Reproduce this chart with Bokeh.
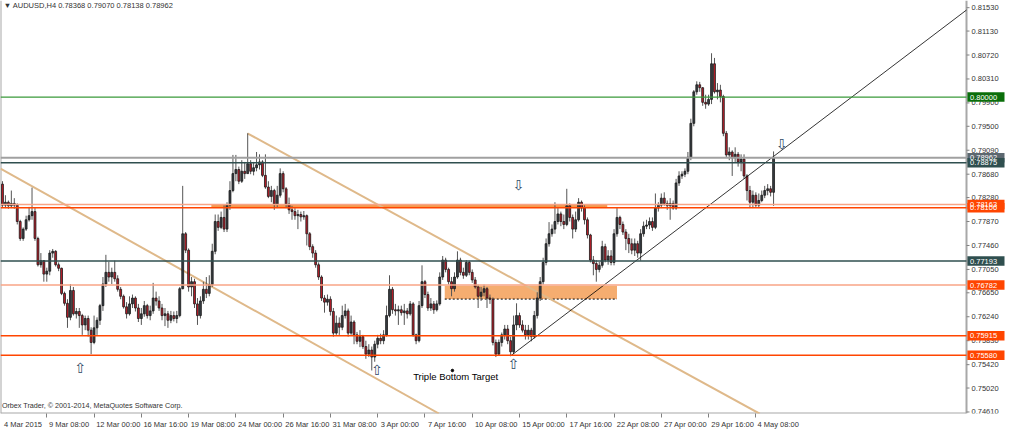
import pandas as pd
from bokeh.plotting import figure
from bokeh.models import Range1d, FixedTicker, ColumnDataSource
from bokeh.core.properties import value
from bokeh.embed import file_html
from bokeh.resources import INLINE

# ---------------- data (AUDUSD, H4) ----------------
header_text = "\u25BC AUDUSD,H4  0.78368 0.79070 0.78138 0.78962"
footer_text = "Orbex Trader, \u00A9 2001-2014, MetaQuotes Software Corp."

first_open = 0.7851
closes = [
    0.7815, 0.7820, 0.7814, 0.7818, 0.7815, 0.7787, 0.7758, 0.7774, 0.7790, 0.7797,
    0.7804, 0.7758, 0.7713, 0.7720, 0.7697, 0.7702, 0.7733, 0.7736, 0.7713, 0.7707,
    0.7664, 0.7647, 0.7623, 0.7669, 0.7629, 0.7633, 0.7626, 0.7610, 0.7621, 0.7601,
    0.7580, 0.7605, 0.7618, 0.7643, 0.7680, 0.7700, 0.7692, 0.7700, 0.7689, 0.7671,
    0.7659, 0.7641, 0.7629, 0.7646, 0.7656, 0.7639, 0.7621, 0.7629, 0.7643, 0.7626,
    0.7634, 0.7656, 0.7651, 0.7639, 0.7626, 0.7629, 0.7618, 0.7626, 0.7621, 0.7626,
    0.7672, 0.7766, 0.7738, 0.7675, 0.7684, 0.7646, 0.7626, 0.7651, 0.7671, 0.7664,
    0.7679, 0.7736, 0.7787, 0.7777, 0.7794, 0.7774, 0.7815, 0.7840, 0.7869, 0.7876,
    0.7856, 0.7873, 0.7869, 0.7886, 0.7873, 0.7879, 0.7884, 0.7889, 0.7866, 0.7846,
    0.7830, 0.7840, 0.7817, 0.7832, 0.7869, 0.7843, 0.7817, 0.7807, 0.7804, 0.7797,
    0.7799, 0.7795, 0.7797, 0.7766, 0.7744, 0.7733, 0.7713, 0.7692, 0.7656, 0.7649,
    0.7654, 0.7633, 0.7596, 0.7613, 0.7606, 0.7626, 0.7634, 0.7596, 0.7615, 0.7593,
    0.7582, 0.7590, 0.7573, 0.7560, 0.7567, 0.7555, 0.7577, 0.7587, 0.7583, 0.7593,
    0.7626, 0.7671, 0.7636, 0.7634, 0.7636, 0.7631, 0.7634, 0.7629, 0.7646, 0.7593,
    0.7583, 0.7643, 0.7684, 0.7662, 0.7639, 0.7646, 0.7636, 0.7646, 0.7692, 0.7721,
    0.7705, 0.7684, 0.7672, 0.7692, 0.7721, 0.7700, 0.7695, 0.7717, 0.7700, 0.7687,
    0.7675, 0.7659, 0.7666, 0.7672, 0.7656, 0.7654, 0.7580, 0.7560, 0.7580, 0.7593,
    0.7603, 0.7583, 0.7564, 0.7610, 0.7626, 0.7610, 0.7601, 0.7593, 0.7601, 0.7590,
    0.7626, 0.7656, 0.7684, 0.7717, 0.7749, 0.7766, 0.7774, 0.7787, 0.7800, 0.7787,
    0.7782, 0.7814, 0.7794, 0.7774, 0.7790, 0.7820, 0.7810, 0.7790, 0.7764, 0.7721,
    0.7715, 0.7705, 0.7712, 0.7744, 0.7721, 0.7728, 0.7717, 0.7766, 0.7794, 0.7782,
    0.7769, 0.7758, 0.7749, 0.7738, 0.7749, 0.7733, 0.7766, 0.7779, 0.7781, 0.7787,
    0.7777, 0.7810, 0.7815, 0.7827, 0.7818, 0.7814, 0.7818, 0.7810, 0.7853, 0.7865,
    0.7868, 0.7873, 0.7897, 0.7955, 0.8009, 0.8021, 0.8016, 0.7991, 0.7988, 0.7996,
    0.8057, 0.8009, 0.8012, 0.8001, 0.7938, 0.7901, 0.7906, 0.7896, 0.7902, 0.7889,
    0.7894, 0.7865, 0.7840, 0.7820, 0.7832, 0.7815, 0.7823, 0.7832, 0.7840, 0.7843,
    0.7837, 0.78962,
]
highs = [
    0.7856, 0.7832, 0.7823, 0.7840, 0.7827, 0.7818, 0.7790, 0.7777, 0.7797, 0.7812,
    0.7845, 0.7810, 0.7761, 0.7733, 0.7721, 0.7708, 0.7738, 0.7740, 0.7738, 0.7717,
    0.7708, 0.7667, 0.7654, 0.7680, 0.7675, 0.7639, 0.7639, 0.7629, 0.7626, 0.7626,
    0.7606, 0.7626, 0.7623, 0.7646, 0.7692, 0.7730, 0.7718, 0.7708, 0.7720, 0.7695,
    0.7675, 0.7662, 0.7649, 0.7659, 0.7662, 0.7659, 0.7646, 0.7639, 0.7651, 0.7646,
    0.7643, 0.7682, 0.7667, 0.7659, 0.7646, 0.7639, 0.7634, 0.7634, 0.7633, 0.7634,
    0.7675, 0.7848, 0.7769, 0.7741, 0.7692, 0.7689, 0.7656, 0.7659, 0.7684, 0.7692,
    0.7695, 0.7749, 0.7799, 0.7799, 0.7804, 0.7815, 0.7820, 0.7856, 0.7901, 0.7901,
    0.7881, 0.7892, 0.7889, 0.7938, 0.7892, 0.7889, 0.7906, 0.7902, 0.7892, 0.7902,
    0.7856, 0.7848, 0.7843, 0.7848, 0.7878, 0.7873, 0.7846, 0.7828, 0.7814, 0.7810,
    0.7807, 0.7804, 0.7805, 0.7799, 0.7769, 0.7748, 0.7738, 0.7717, 0.7695, 0.7661,
    0.7662, 0.7659, 0.7639, 0.7626, 0.7623, 0.7643, 0.7646, 0.7638, 0.7626, 0.7618,
    0.7598, 0.7601, 0.7593, 0.7583, 0.7577, 0.7573, 0.7583, 0.7593, 0.7595, 0.7601,
    0.7643, 0.7695, 0.7675, 0.7646, 0.7643, 0.7643, 0.7646, 0.7639, 0.7651, 0.7649,
    0.7595, 0.7651, 0.7712, 0.7687, 0.7667, 0.7656, 0.7651, 0.7652, 0.7700, 0.7728,
    0.7725, 0.7708, 0.7692, 0.7700, 0.7736, 0.7725, 0.7708, 0.7721, 0.7720, 0.7705,
    0.7692, 0.7679, 0.7675, 0.7679, 0.7675, 0.7662, 0.7657, 0.7585, 0.7585, 0.7597,
    0.7610, 0.7610, 0.7590, 0.7626, 0.7647, 0.7631, 0.7618, 0.7610, 0.7610, 0.7605,
    0.7634, 0.7666, 0.7692, 0.7725, 0.7758, 0.7786, 0.7782, 0.7820, 0.7810, 0.7804,
    0.7799, 0.7843, 0.7818, 0.7799, 0.7804, 0.7827, 0.7823, 0.7815, 0.7794, 0.7766,
    0.7728, 0.7721, 0.7718, 0.7754, 0.7749, 0.7738, 0.7738, 0.7774, 0.7810, 0.7797,
    0.7787, 0.7774, 0.7766, 0.7758, 0.7758, 0.7754, 0.7774, 0.7787, 0.7790, 0.7794,
    0.7794, 0.7835, 0.7820, 0.7835, 0.7837, 0.7823, 0.7827, 0.7823, 0.7860, 0.7873,
    0.7873, 0.7878, 0.7906, 0.7963, 0.8012, 0.8027, 0.8026, 0.8017, 0.8004, 0.8004,
    0.8075, 0.8067, 0.8024, 0.8021, 0.8004, 0.7942, 0.7914, 0.7909, 0.7914, 0.7906,
    0.7902, 0.7902, 0.7868, 0.7848, 0.7840, 0.7837, 0.7835, 0.7840, 0.7848, 0.7851,
    0.7848, 0.79070,
]
lows = [
    0.7812, 0.7810, 0.7809, 0.7810, 0.7809, 0.7782, 0.7754, 0.7754, 0.7771, 0.7787,
    0.7790, 0.7754, 0.7710, 0.7708, 0.7684, 0.7684, 0.7695, 0.7725, 0.7710, 0.7702,
    0.7661, 0.7643, 0.7605, 0.7618, 0.7626, 0.7621, 0.7605, 0.7593, 0.7601, 0.7590,
    0.7560, 0.7577, 0.7593, 0.7610, 0.7634, 0.7675, 0.7684, 0.7680, 0.7684, 0.7667,
    0.7654, 0.7638, 0.7621, 0.7626, 0.7639, 0.7633, 0.7615, 0.7610, 0.7624, 0.7621,
    0.7618, 0.7629, 0.7643, 0.7634, 0.7618, 0.7608, 0.7605, 0.7613, 0.7616, 0.7613,
    0.7623, 0.7671, 0.7733, 0.7667, 0.7659, 0.7639, 0.7610, 0.7621, 0.7646, 0.7656,
    0.7659, 0.7675, 0.7731, 0.7771, 0.7774, 0.7769, 0.7769, 0.7807, 0.7837, 0.7856,
    0.7851, 0.7853, 0.7860, 0.7869, 0.7868, 0.7866, 0.7873, 0.7876, 0.7863, 0.7843,
    0.7827, 0.7820, 0.7807, 0.7810, 0.7828, 0.7837, 0.7810, 0.7800, 0.7790, 0.7790,
    0.7774, 0.7787, 0.7790, 0.7746, 0.7738, 0.7725, 0.7708, 0.7687, 0.7651, 0.7631,
    0.7643, 0.7626, 0.7590, 0.7593, 0.7593, 0.7601, 0.7621, 0.7590, 0.7593, 0.7577,
    0.7577, 0.7572, 0.7569, 0.7552, 0.7555, 0.7532, 0.7547, 0.7570, 0.7577, 0.7577,
    0.7590, 0.7623, 0.7629, 0.7626, 0.7610, 0.7626, 0.7610, 0.7621, 0.7626, 0.7590,
    0.7577, 0.7580, 0.7639, 0.7656, 0.7634, 0.7634, 0.7629, 0.7633, 0.7643, 0.7687,
    0.7700, 0.7679, 0.7659, 0.7667, 0.7689, 0.7695, 0.7689, 0.7692, 0.7695, 0.7682,
    0.7672, 0.7639, 0.7651, 0.7659, 0.7639, 0.7646, 0.7575, 0.7555, 0.7557, 0.7573,
    0.7585, 0.7577, 0.7557, 0.7560, 0.7601, 0.7605, 0.7597, 0.7585, 0.7585, 0.7582,
    0.7587, 0.7621, 0.7651, 0.7679, 0.7712, 0.7744, 0.7761, 0.7766, 0.7782, 0.7779,
    0.7774, 0.7779, 0.7787, 0.7758, 0.7769, 0.7787, 0.7804, 0.7782, 0.7758, 0.7717,
    0.7695, 0.7684, 0.7700, 0.7708, 0.7717, 0.7713, 0.7712, 0.7712, 0.7761, 0.7774,
    0.7764, 0.7738, 0.7733, 0.7731, 0.7728, 0.7725, 0.7720, 0.7761, 0.7774, 0.7774,
    0.7771, 0.7774, 0.7804, 0.7810, 0.7814, 0.7807, 0.7790, 0.7807, 0.7807, 0.7848,
    0.7860, 0.7863, 0.7868, 0.7892, 0.7950, 0.8004, 0.8009, 0.7985, 0.7980, 0.7985,
    0.7988, 0.8006, 0.7996, 0.7991, 0.7933, 0.7897, 0.7892, 0.7865, 0.7889, 0.7881,
    0.7873, 0.7860, 0.7823, 0.7810, 0.7810, 0.7812, 0.7810, 0.7820, 0.7827, 0.7832,
    0.7830, 0.78138,
]

# time axis: bar index of each date tick and its text
first_date_label = "4 Mar 2015"
tick_bars = [15, 31, 47, 63, 79, 95, 111, 127, 143, 159, 175, 191, 207, 223, 239, 255]
tick_labels = ["9 Mar 08:00", "12 Mar 00:00", "16 Mar 16:00", "19 Mar 08:00", "24 Mar 00:00",
               "26 Mar 16:00", "31 Mar 08:00", "3 Apr 00:00", "7 Apr 16:00", "10 Apr 08:00",
               "15 Apr 00:00", "17 Apr 16:00", "22 Apr 08:00", "27 Apr 00:00", "29 Apr 16:00",
               "4 May 08:00"]

price_ticks = [0.74610, 0.75020, 0.75420, 0.75830, 0.76240, 0.76650, 0.77050, 0.77460, 0.77870,
               0.78280, 0.78680, 0.79090, 0.79500, 0.79900, 0.80310, 0.80720, 0.81130, 0.81530]

# horizontal levels drawn on the chart
level_prices = [0.80000, 0.78962, 0.78875, 0.78163, 0.78106, 0.77193, 0.76782, 0.75915, 0.75580]
level_line_colors = ["#3a9a3a", "#a0a0a0", "#2f4f4f", "#f8a486", "#ff4500", "#2f4f4f", "#f8a486", "#ff4500", "#ff4500"]
level_line_widths = [1.2, 2, 1.5, 1.5, 1.5, 1.5, 1.5, 1.5, 1.5]
level_box_colors = ["#0a6e0a", "#5c6870", "#2f4f4f", "#ff4500", "#ff4500", "#2f4f4f", "#ff4500", "#ff4500", "#ff4500"]

# analysis objects (bar index, price)
channel_lower = ([-0.67, 147.7], [0.78776, 0.74584])
channel_upper = ([82.9, 256.3], [0.79380, 0.74580])
trend_line = ([172.0, 326.3], [0.75570, 0.81490])
zone_resist = (70.7, 204.7, 0.78106, 0.78163)
zone_target = (149.7, 208.0, 0.76542, 0.76772)
up_arrows_x = [26.3, 126.7, 172.9]
up_arrows_y = [0.7536, 0.7533, 0.7543]
down_arrows_x = [174.6, 263.7]
down_arrows_y = [0.7849, 0.7920]
note_text = "Triple Bottom Target"
note_x, note_y = 139.0, 0.7521
note_dot = (152.3, 0.7532)

# ---------------- layout constants ----------------
X0 = -0.67            # left edge of chart area (bar units)
XC = 326.3            # price-scale line (bar units)
W, H = 1008, 431
SCALE_PX = 42         # width of price scale strip
PX_PER_BAR = (W - SCALE_PX) / (XC - X0)
X2 = XC + SCALE_PX / PX_PER_BAR
Y0, Y1 = 0.74584, 0.81653
FONT = "Liberation Sans"
GRAY = "#a8a8a8"

p = figure(width=W, height=H, output_backend="svg", toolbar_location=None,
           x_range=Range1d(X0, X2), y_range=Range1d(Y0, Y1), y_axis_location=None,
           min_border_left=0, min_border_top=0, min_border_right=0, min_border_bottom=0)
p.background_fill_color = "white"
p.border_fill_color = "white"
p.outline_line_color = None
p.xgrid.visible = False
p.ygrid.visible = False

# frame of the chart area (left, bottom) and price scale line
p.segment(x0=[X0, X0, XC], y0=[Y0, Y0, Y0], x1=[X0, XC, XC], y1=[Y1, Y0, Y1], line_color=GRAY, line_width=2)

# zones (behind bars)
p.quad(left=[zone_resist[0]], right=[zone_resist[1]], bottom=[zone_resist[2]], top=[zone_resist[3]],
       fill_color="#f59a4c", line_color=None)
p.quad(left=[zone_target[0]], right=[zone_target[1]], bottom=[zone_target[2]], top=[zone_target[3]],
       fill_color="#f4a460", fill_alpha=0.9, line_color=None)
p.line([zone_target[0], zone_target[1]], [zone_target[2], zone_target[2]], line_color="black",
       line_width=1, line_dash="2 2")

# channel lines
p.line(channel_lower[0], channel_lower[1], line_color="#dfb98a", line_width=2)
p.line(channel_upper[0], channel_upper[1], line_color="#dfb98a", line_width=2)

# candles
n = len(closes)
opens = [first_open] + closes[:-1]
df = pd.DataFrame(dict(i=list(range(n)), o=opens, h=highs, l=lows, c=closes))
df["top"] = df[["o", "c"]].max(axis=1)
df["bot"] = df[["o", "c"]].min(axis=1)
up = df[df.c >= df.o]
dn = df[df.c < df.o]
p.segment(x0="i", y0="h", x1="i", y1="l", source=ColumnDataSource(df), line_color="#555555", line_width=1)
p.vbar(x="i", width=0.64, top="top", bottom="bot", source=ColumnDataSource(up),
       fill_color="#363c42", line_color="#1a1a1a", line_width=0.8)
p.vbar(x="i", width=0.64, top="top", bottom="bot", source=ColumnDataSource(dn),
       fill_color="#bd1e2a", line_color="#1a1a1a", line_width=0.8)

# trend line
p.line(trend_line[0], trend_line[1], line_color="black", line_width=0.8)

# horizontal levels (stop at the price scale)
nl = len(level_prices)
p.segment(x0=[X0] * nl, y0=level_prices, x1=[XC] * nl, y1=level_prices,
          line_color=level_line_colors, line_width=level_line_widths)

# arrows and notes
p.text(x=up_arrows_x, y=up_arrows_y, text=["\u21E7"] * len(up_arrows_x), text_font=value("DejaVu Sans"),
       text_font_size="14px", text_align="center", text_baseline="middle", text_color="#2f4a66")
p.text(x=down_arrows_x, y=down_arrows_y, text=["\u21E9"] * len(down_arrows_x), text_font=value("DejaVu Sans"),
       text_font_size="14px", text_align="center", text_baseline="middle", text_color="#2f4a66")
p.text(x=[note_x], y=[note_y], text=[note_text], text_font=value(FONT), text_font_size="9.5px",
       text_align="left", text_baseline="middle", text_color="black")
p.scatter([note_dot[0]], [note_dot[1]], size=2.5, color="black")
p.text(x=[0.4], y=[0.81570], text=[header_text], text_font=value(FONT), text_font_size="7.5px",
       text_align="left", text_baseline="middle", text_color="#333333")
p.text(x=[-0.2], y=[0.74725], text=[footer_text], text_font=value(FONT), text_font_size="7.2px",
       text_align="left", text_baseline="middle", text_color="#333333")

# price scale: ticks, labels, level boxes
npt = len(price_ticks)
tick_len = 3 / PX_PER_BAR
p.segment(x0=[XC] * npt, y0=price_ticks, x1=[XC + tick_len] * npt, y1=price_ticks,
          line_color="#808080", line_width=1)
p.text(x=[XC + 5 / PX_PER_BAR] * npt, y=price_ticks, text=[f"{v:.5f}" for v in price_ticks],
       text_font=value(FONT), text_font_size="7.5px", text_align="left", text_baseline="middle",
       text_color="#333333")
box_h = 9.5 * (Y1 - Y0) / 414
p.quad(left=[XC + 0.3] * nl, right=[XC + 38 / PX_PER_BAR] * nl,
       bottom=[v - box_h / 2 for v in level_prices], top=[v + box_h / 2 for v in level_prices],
       fill_color=level_box_colors, line_color=None)
p.text(x=[XC + 3.5 / PX_PER_BAR] * nl, y=level_prices, text=[f"{v:.5f}" for v in level_prices],
       text_font=value(FONT), text_font_size="7.5px", text_align="left", text_baseline="middle",
       text_color="white")

# x axis: tick marks as minor ticks, label texts to the right of each tick
avg_char_px = 3.7
label_pos = [round(X0 + (4 + len(first_date_label) * avg_char_px / 2) / PX_PER_BAR, 2)]
label_pos += [round(t + (2 + len(s) * avg_char_px / 2) / PX_PER_BAR, 2) for t, s in zip(tick_bars, tick_labels)]
all_labels = [first_date_label] + tick_labels
xa = p.xaxis[0]
xa.ticker = FixedTicker(ticks=label_pos, minor_ticks=tick_bars)
xa.major_label_overrides = {pos: s for pos, s in zip(label_pos, all_labels)}
xa.major_tick_out = 0
xa.major_tick_in = 0
xa.minor_tick_out = 4
xa.minor_tick_in = 0
xa.minor_tick_line_color = "#808080"
xa.axis_line_color = None
xa.major_label_standoff = 2
xa.major_label_text_font = FONT
xa.major_label_text_font_size = "7.5px"
xa.major_label_text_color = "#333333"

open("out.html", "w").write(file_html(p, INLINE))
